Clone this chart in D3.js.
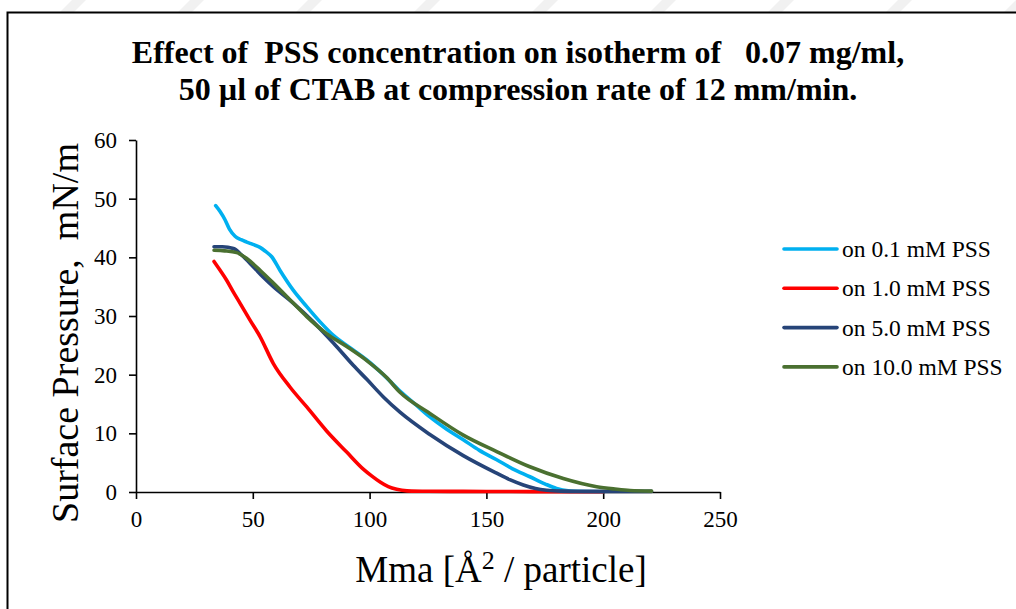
<!DOCTYPE html>
<html><head><meta charset="utf-8">
<script src="https://cdn.jsdelivr.net/npm/d3@7"></script>
<style>
html,body{margin:0;padding:0;background:#fff;}
svg{display:block;}
text{font-family:"Liberation Serif","Times New Roman",serif;white-space:pre;}
</style></head>
<body>
<script>
// ---- data ----
const titleLines = ["Effect of  PSS concentration on isotherm of   0.07 mg/ml,", "50 \u00b5l of CTAB at compression rate of 12 mm/min."];
const xTicks = [0, 50, 100, 150, 200, 250];
const yTicks = [0, 10, 20, 30, 40, 50, 60];
const seriesNames = ["on 0.1 mM PSS", "on 1.0 mM PSS", "on 5.0 mM PSS", "on 10.0 mM PSS"];
const seriesColors = ["#00B0F0", "#FF0000", "#264478", "#4A7030"];

const x01 = [34.1, 36, 38.1, 40, 42.4, 45, 47.4, 50, 53.1, 55.5, 58.1, 61.6, 67.3, 73.1, 78.8, 84.5, 91.6, 98.8, 105.9, 113, 120, 125.8, 133, 140.1, 147, 154.4, 161, 168.6, 175, 180, 185, 192, 200];
const y01 = [48.8, 47.8, 46.4, 44.8, 43.6, 43.0, 42.6, 42.2, 41.7, 41.0, 40.1, 37.8, 34.4, 31.6, 29.0, 26.7, 24.6, 22.5, 20.0, 17.2, 14.8, 12.8, 10.7, 8.9, 7.1, 5.5, 4.0, 2.6, 1.4, 0.6, 0.2, 0.08, 0.05];

const x10 = [33.4, 36, 38.8, 41.5, 44.5, 48.8, 53.1, 58.8, 65.9, 73.1, 81.6, 90.2, 97.3, 101, 104.5, 108, 111.6, 116, 125, 140, 160, 180, 200];
const y10 = [39.3, 37.8, 36.1, 34.2, 32.2, 29.3, 26.5, 21.9, 17.9, 14.5, 10.4, 6.8, 3.9, 2.7, 1.7, 0.9, 0.45, 0.2, 0.12, 0.1, 0.08, 0.06, 0.05];

const x50 = [33.4, 37, 41.7, 45.2, 50.2, 54.5, 58.8, 67.3, 75.9, 84.5, 93, 98.8, 105.9, 113, 125.8, 140.1, 154.4, 160, 165.8, 171, 175.8, 182, 190, 200, 210, 220.7];
const y50 = [41.8, 41.8, 41.5, 40.4, 38.4, 36.6, 35.0, 32.2, 29.0, 25.4, 21.6, 19.2, 16.2, 13.6, 9.8, 6.2, 3.2, 2.1, 1.2, 0.6, 0.3, 0.15, 0.1, 0.1, 0.1, 0.1];

const x100 = [33.4, 38, 43.1, 47.4, 53.1, 58.8, 67.3, 73.1, 81.6, 90.2, 98.8, 107.3, 113, 125.8, 140.1, 154.4, 168.6, 182.9, 197.2, 205, 211.5, 220.7];
const y100 = [41.2, 41.1, 40.8, 39.8, 37.8, 35.6, 32.2, 29.9, 27.0, 24.8, 22.4, 19.5, 17.0, 13.4, 9.7, 6.9, 4.3, 2.3, 0.9, 0.5, 0.25, 0.15];

const seriesX = [x01, x10, x50, x100];
const seriesY = [y01, y10, y50, y100];

// ---- layout ----
const W = 1016, H = 609;
const svg = d3.select("body").append("svg").attr("width", W).attr("height", H);

// faint watermark stripes at the very top
const stripes = d3.range(0, 10);
svg.selectAll("path.wm").data(stripes).enter().append("path")
  .attr("d", i => { const x0 = 60 + i * 118; return `M${x0},12 L${x0+14},12 L${x0+26},0 L${x0+12},0 Z`; })
  .attr("fill", "#f1f1f1");

// outer frame (only top/left visible)
svg.append("rect").attr("x", 7.5).attr("y", 12.5).attr("width", 1020).attr("height", 620)
  .attr("fill", "none").attr("stroke", "#000").attr("stroke-width", 2);

const xScale = d3.scaleLinear().domain([0, 250]).range([136, 720]);
const yScale = d3.scaleLinear().domain([0, 60]).range([492, 140]);

// title
svg.append("g").selectAll("text").data(titleLines).enter().append("text")
  .attr("x", 518).attr("y", (d, i) => 63 + i * 36.5)
  .attr("text-anchor", "middle").attr("font-weight", "bold").attr("font-size", 32)
  .text(d => d);

// axes
const xAxis = d3.axisBottom(xScale).tickValues(xTicks).tickSize(7).tickSizeOuter(0).tickPadding(12);
const gx = svg.append("g").attr("transform", `translate(0,${yScale(0)})`).call(xAxis);
const yAxis = d3.axisLeft(yScale).tickValues(yTicks).tickSize(7).tickSizeOuter(0).tickPadding(12);
const gy = svg.append("g").attr("transform", `translate(${xScale(0)},0)`).call(yAxis);
[gx, gy].forEach(g => {
  g.select(".domain").attr("stroke", "#000").attr("stroke-width", 1.6);
  g.selectAll(".tick line").attr("stroke", "#000").attr("stroke-width", 1.6);
  g.selectAll(".tick text").attr("fill", "#000").attr("font-size", 23)
    .attr("font-family", "Liberation Serif, Times New Roman, serif");
});

// axis titles
svg.append("text").attr("transform", `translate(78,333) rotate(-90)`)
  .attr("text-anchor", "middle").attr("font-size", 38).text("Surface Pressure,  mN/m");
const xt = svg.append("text").attr("x", 501).attr("y", 582).attr("text-anchor", "middle").attr("font-size", 37);
xt.append("tspan").text("Mma [\u00c5");
xt.append("tspan").attr("dy", -13).attr("font-size", 26).text("2");
xt.append("tspan").attr("dy", 13).text(" / particle]");

// lines
const line = d3.line().x(d => xScale(d[0])).y(d => yScale(d[1])).curve(d3.curveMonotoneX);
const plot = svg.append("g");
seriesNames.forEach((name, i) => {
  const pts = seriesX[i].map((xv, j) => [xv, seriesY[i][j]]);
  plot.append("path").datum(pts).attr("d", line)
    .attr("fill", "none").attr("stroke", seriesColors[i]).attr("stroke-width", 3.6)
    .attr("stroke-linejoin", "round").attr("stroke-linecap", "round");
});

// legend
const leg = svg.append("g");
seriesNames.forEach((name, i) => {
  const yy = 249 + i * 39.3;
  leg.append("line").attr("x1", 784).attr("x2", 837).attr("y1", yy).attr("y2", yy)
    .attr("stroke", seriesColors[i]).attr("stroke-width", 3.6).attr("stroke-linecap", "round");
  leg.append("text").attr("x", 842).attr("y", yy + 8).attr("font-size", 23.5).text(name);
});
</script>
</body></html>
